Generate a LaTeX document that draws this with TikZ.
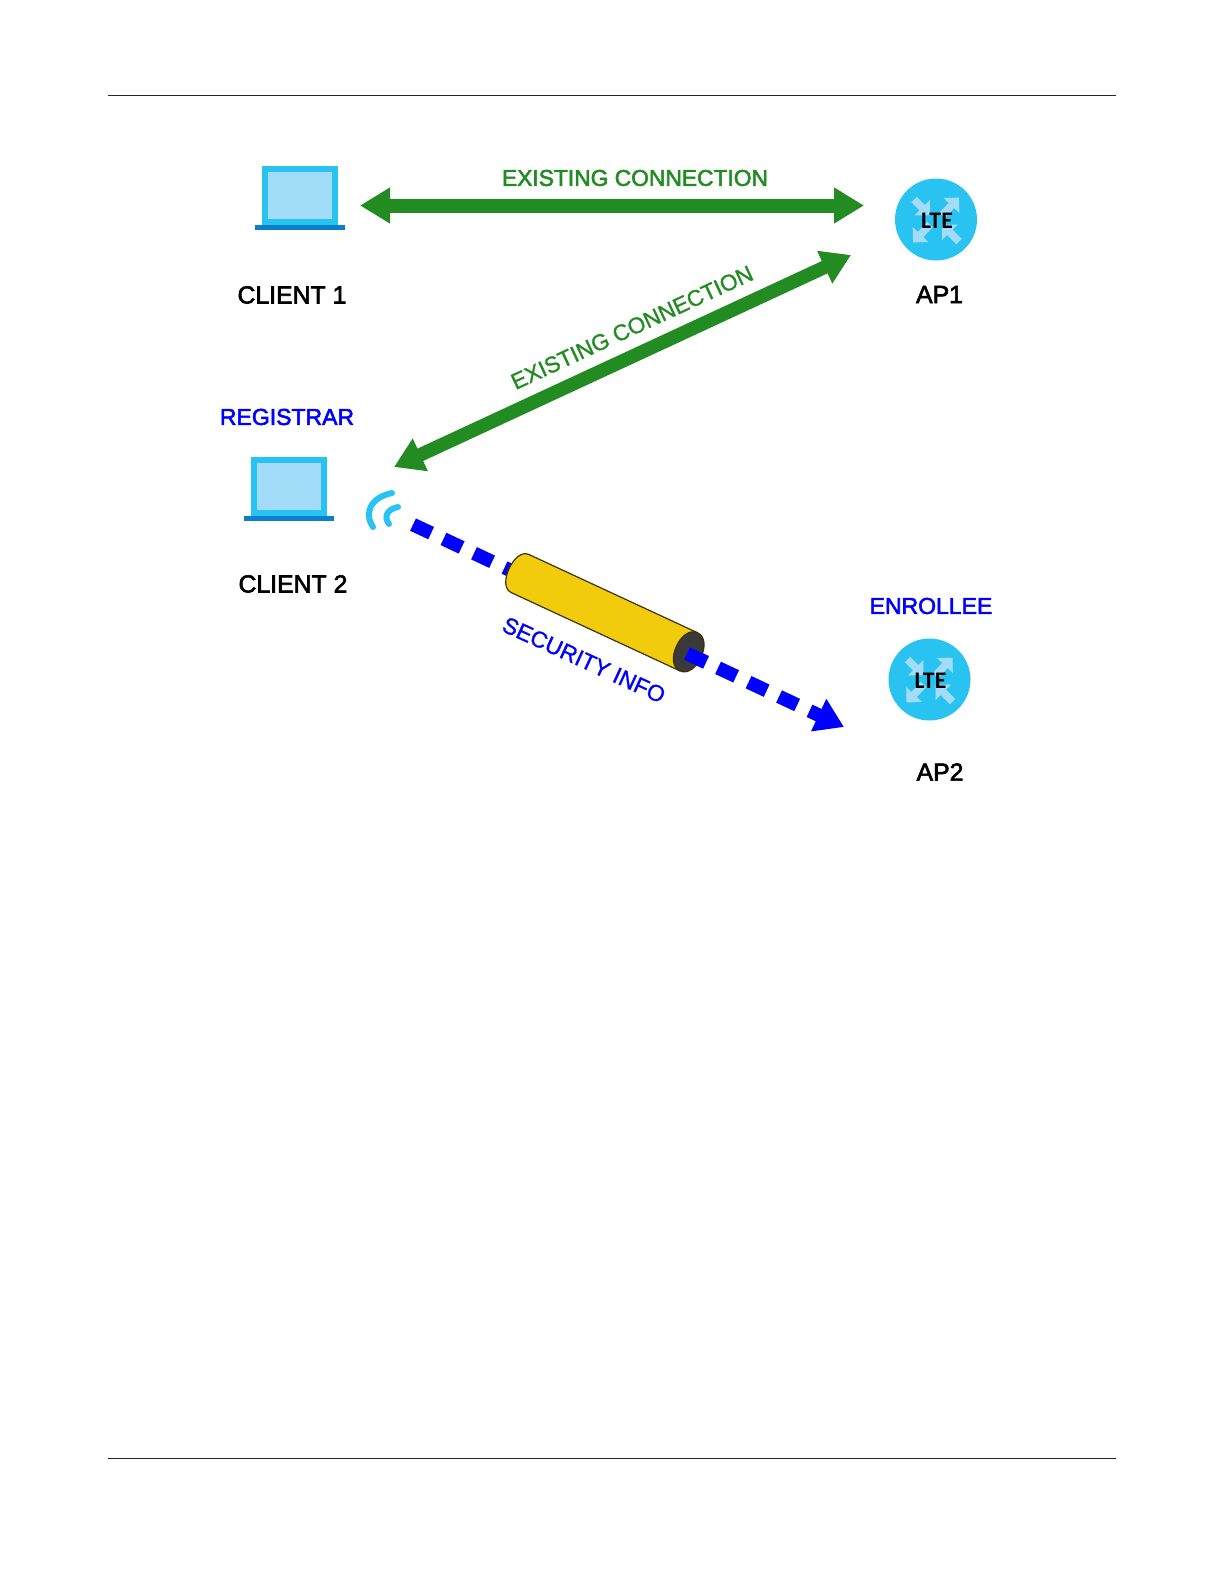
\documentclass[tikz,border=0pt]{standalone}
\usepackage{fontspec}
\setmainfont{Liberation Sans}
\newfontfamily\labfont[FakeBold=2.5]{Liberation Sans}
\newfontfamily\slabfont[FakeBold=1.2]{Liberation Sans}
\newfontfamily\ltefont{Carlito Bold}
\usetikzlibrary{arrows.meta}
\definecolor{cyanblue}{HTML}{29C3F2}
\definecolor{screenfill}{HTML}{A3DCF9}
\definecolor{basecol}{HTML}{0C7FC9}
\definecolor{arrowgreen}{HTML}{228B22}
\definecolor{puregblue}{HTML}{0000FF}
\definecolor{tube}{HTML}{F2CB0C}
\definecolor{capdark}{HTML}{3A3A3A}
\tikzset{
  screen/.style={draw=cyanblue,fill=screenfill,line width=3pt,minimum width=35pt,minimum height=26.5pt,inner sep=0pt},
  lapbase/.style={fill=basecol,minimum width=45pt,minimum height=2.6pt,inner sep=0pt},
  lte/.style={circle,fill=cyanblue,minimum size=41pt,inner sep=0pt},
  ltetext/.style={inner sep=0pt,font=\ltefont\fontsize{11.9}{12}\selectfont,text=black},
  blacklabel/.style={inner sep=0pt,font=\labfont\fontsize{12.4}{14}\selectfont,text=black},
  greenlabel/.style={inner sep=0pt,font=\labfont\fontsize{11.4}{14}\selectfont,text=arrowgreen},
  bluelabel/.style={inner sep=0pt,font=\labfont\fontsize{11.5}{14}\selectfont,text=puregblue},
  greenarrow/.style={draw=arrowgreen,line width=#1},
  greenarrow/.default=7pt,
  bluearrow/.style={draw=puregblue,line width=6.8pt},
  wifi/.style={draw=cyanblue,line width=3pt,line cap=round},
  inarrow/.style={draw=screenfill,line width=3.8pt,-{Triangle[length=5.5pt,width=10.5pt]}},
  tubeline/.style={draw=black!75!tube,line width=0.6pt},
}
\newcommand{\lteicon}[3]{%
  \node[lte] (#1) at (#2,#3) {};
  \begin{scope}[shift={(#1.center)}]
    \coordinate (#1nwa) at (-22,-20); \coordinate (#1nwb) at (-6,-4);
    \coordinate (#1sea) at (23,22);   \coordinate (#1seb) at (6,5);
    \coordinate (#1nea) at (6,-4);    \coordinate (#1neb) at (23,-22);
    \coordinate (#1swa) at (-6,5);    \coordinate (#1swb) at (-23,23);
    \draw[inarrow] (#1nwa) -- (#1nwb);
    \draw[inarrow] (#1sea) -- (#1seb);
    \draw[inarrow] (#1nea) -- (#1neb);
    \draw[inarrow] (#1swa) -- (#1swb);
    \node[ltetext] (#1text) at (1,1) {LTE};
  \end{scope}
}
\begin{document}
\begin{tikzpicture}[x=0.5pt,y=-0.5pt]
\useasboundingbox (0,0) rectangle (1224,1584);
% page rules
\coordinate (rta) at (108,96); \coordinate (rtb) at (1116,96);
\coordinate (rba) at (108,1458); \coordinate (rbb) at (1116,1458);
\draw[line width=0.5pt,black!85] (rta) -- (rtb);
\draw[line width=0.5pt,black!85] (rba) -- (rbb);
% laptops
\node[lapbase] (base1) at (300,227.5) {};
\node[screen] (client1) at (300,195.5) {};
\node[lapbase] (base2) at (289,518.5) {};
\node[screen] (client2) at (289,486.5) {};
\node[blacklabel] (client1label) at (292,295) {CLIENT 1};
\node[blacklabel] (client2label) at (293,584) {CLIENT 2};
\node[bluelabel] (registrar) at (287,417) {REGISTRAR};
% LTE
\lteicon{ap1}{936}{219.5}
\lteicon{ap2}{929.5}{679.5}
\node[blacklabel] (ap1label) at (939.5,294.5) {AP1};
\node[blacklabel] (ap2label) at (940,772) {AP2};
\node[bluelabel] (enrollee) at (931,606) {ENROLLEE};
% green arrows
\coordinate (g1a) at (360,205.5); \coordinate (g1b) at (864,205.5);
\draw[greenarrow,{Triangle[length=15pt,width=17pt]}-{Triangle[length=15pt,width=17pt]}] (g1a) -- (g1b);
\node[greenlabel] (exist1) at (635,178) {EXISTING CONNECTION};
\coordinate (g2a) at (394,467); \coordinate (g2b) at (851,255);
\draw[greenarrow=6.8pt,{Triangle[length=14.5pt,width=17pt]}-{Triangle[length=14.5pt,width=17pt]}] (g2a) -- (g2b);
\node[greenlabel,rotate=24.9,font=\slabfont\fontsize{11.3}{14}\selectfont] (exist2) at (632,327.5) {EXISTING CONNECTION};
% wifi
\draw[wifi] (392,493) .. controls (372,497) and (363,512) .. (373,527);
\draw[wifi] (398,507) .. controls (388,509) and (383,516) .. (389,524);
% blue dashed
\coordinate (b1a) at (413,524.6); \coordinate (b1b) at (844,727);
\draw[bluearrow,dash pattern=on 10pt off 6.85pt,-{Triangle[length=14pt,width=17pt]}] (b1a) -- (b1b);
% tube
\begin{scope}[shift={(520,573.5)},rotate=-24.9]
  \draw[tubeline,fill=tube] (0,-21) -- (186,-21) -- (186,21) -- (0,21) .. controls (-16,21) and (-16,-21) .. (0,-21) -- cycle;
  \draw[tubeline,fill=capdark] (186,-21) .. controls (204,-21) and (204,21) .. (186,21) .. controls (168,21) and (168,-21) .. (186,-21) -- cycle;
\end{scope}
\coordinate (stuba) at (687,653.5); \coordinate (stubb) at (706,662.5);
\draw[bluearrow] (stuba) -- (stubb);
\node[bluelabel,rotate=-24.6,font=\slabfont\fontsize{11.4}{14}\selectfont] (secinfo) at (584,660) {SECURITY INFO};
\end{tikzpicture}
\end{document}
